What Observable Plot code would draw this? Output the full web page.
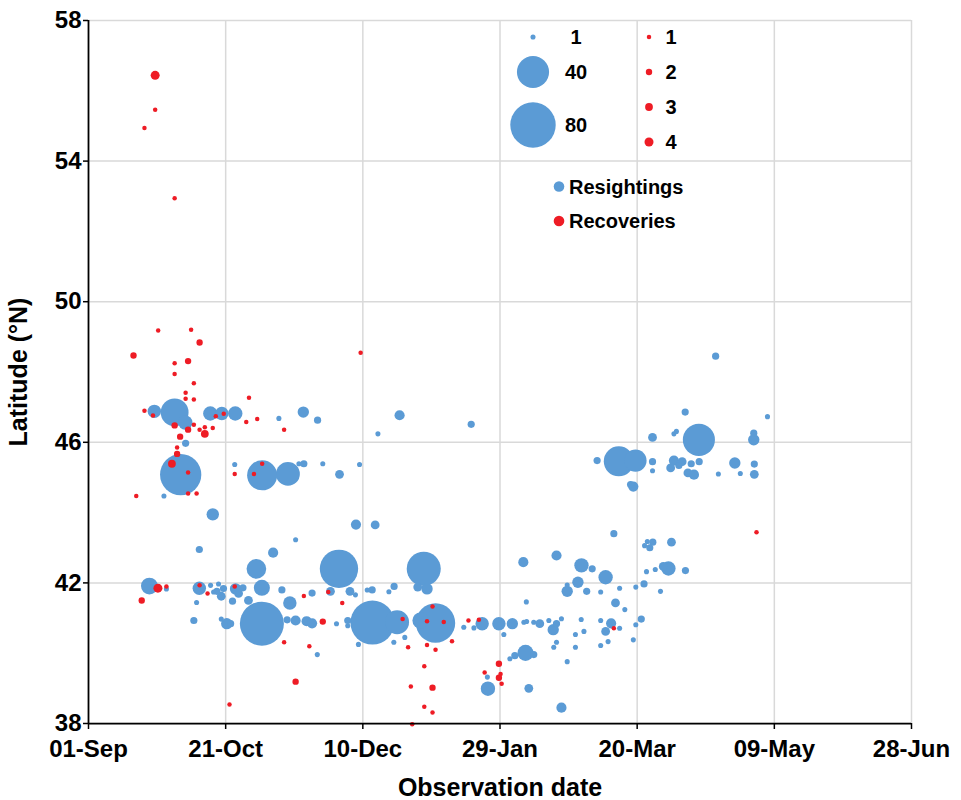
<!DOCTYPE html>
<html>
<head>
<meta charset="utf-8">
<script src="https://cdn.jsdelivr.net/npm/d3@7"></script>
<script src="https://cdn.jsdelivr.net/npm/@observablehq/plot@0.6"></script>
<style>
  html, body { margin: 0; padding: 0; background: #fff; }
  #chart { width: 961px; height: 800px; }
</style>
</head>
<body>
<div id="chart"></div>
<script>
// ---- Data (days after 01-Sep, latitude °N, number of birds) ----
const resightDay = [24.0,31.4,35.3,44.4,48.6,53.5,69.4,35.4,33.6,27.5,53.3,63.3,72.7,76.7,78.5,85.4,98.8,91.5,45.3,97.5,
  104.5,75.5,67.3,61.2,91.3,78.3,83.5,113.4,105.5,139.5,40.4,22.2,28.4,40.4,44.5,47.4,46.8,48.4,49.2,39.4,
  38.4,48.4,50.4,52.5,53.6,56.3,54.7,63.2,58.3,70.5,63.2,73.4,51.8,75.5,79.5,81.5,72.4,90.4,94.5,94.5,
  83.4,98.4,81.5,88.2,95.3,97.3,101.6,103.4,109.5,111.4,103.5,112.5,121.0,126.5,122.2,120.0,123.4,136.8,140.5,111.3,
  115.3,143.5,149.6,154.5,151.4,158.7,159.7,162.3,164.5,167.8,169.4,170.6,172.4,170.6,169.6,177.5,177.5,179.6,180.6,186.7,
  190.5,188.5,193.6,189.4,186.7,199.5,201.5,198.6,159.3,162.3,155.4,153.6,174.5,145.6,145.4,160.5,172.4,158.5,170.6,179.7,
  183.6,188.5,178.4,174.5,174.5,181.6,186.7,193.6,199.5,202.5,208.5,159.6,192.1,195.5,211.4,203.4,206.6,209.5,217.6,228.6,
  217.5,247.5,222.5,205.6,213.4,214.3,242.5,242.5,185.4,193.3,199.4,205.6,205.6,197.6,198.6,213.4,212.2,216.4,215.2,219.7,
  222.6,218.5,220.7,229.6,235.6,237.6,242.7,242.7,191.5,202.7,204.6,205.7,203.7,212.5,45.6];
const resightLat = [46.88,46.85,46.56,46.82,46.82,46.82,46.68,45.97,45.08,44.47,45.37,45.06,45.10,45.39,45.39,45.39,45.37,45.09,43.95,43.66,
  43.65,43.23,42.86,42.40,42.40,46.86,46.63,46.77,46.24,46.51,42.95,41.91,41.83,41.85,41.93,41.97,41.76,41.62,41.84,41.44,
  40.93,40.97,40.84,41.48,41.83,41.86,41.70,41.86,41.50,41.80,40.84,41.43,40.84,40.93,40.91,40.85,40.95,40.84,40.93,40.78,
  39.96,40.25,41.71,41.76,41.76,41.66,41.80,41.80,41.75,41.90,40.87,40.88,40.93,40.86,42.40,41.88,41.83,40.74,40.72,40.31,
  40.45,40.84,40.84,40.84,40.53,40.88,40.90,40.88,40.84,40.93,40.67,40.84,40.98,40.31,40.17,40.53,40.17,40.96,40.62,40.93,
  40.85,40.62,40.71,40.33,40.22,40.81,40.97,40.38,40.01,39.96,39.93,39.84,39.76,38.99,39.32,39.00,38.45,42.59,42.78,42.50,
  42.40,42.16,42.02,41.76,41.94,41.76,41.74,41.85,41.88,41.97,41.76,41.46,41.43,41.24,42.41,42.32,42.38,42.47,42.35,48.45,
  46.86,46.73,46.07,46.14,46.24,46.31,46.26,46.07,45.48,45.46,45.48,45.45,45.19,44.80,44.74,45.48,45.27,45.45,45.34,45.39,
  45.45,45.13,45.08,45.10,45.41,45.11,45.38,45.09,43.40,43.06,43.00,43.16,43.18,43.16,41.74];
const resightCount = [7,30,8,8,7,8,1,2,66,1,1,35,22,1,2,1,1,3,6,4,
  3,1,4,15,57,5,2,4,1,2,2,11,1,7,1,1,2,3,2,1,
  2,1,5,2,5,2,3,10,3,2,75,7,2,4,4,4,2,1,2,1,
  1,1,2,3,3,1,1,2,1,2,75,22,10,60,45,3,5,1,1,1,
  1,7,7,5,1,1,1,1,3,1,5,2,1,1,1,1,1,1,1,1,
  4,3,1,1,1,1,2,1,10,2,2,1,1,8,1,3,4,4,4,8,
  2,8,5,5,1,2,1,1,1,2,1,1,3,1,8,1,1,3,2,2,
  2,1,40,3,1,1,2,5,2,35,19,2,1,2,4,4,3,3,2,2,
  2,3,4,1,5,1,2,3,2,1,2,2,1,3,1];

const recoverDay = [24.3,24.3,20.4,31.4,25.4,37.4,40.5,16.4,31.4,36.3,31.4,38.4,35.4,35.4,38.4,58.5,20.4,23.5,46.4,49.3,
  61.5,57.5,31.4,38.4,42.4,45.3,36.3,40.5,42.4,33.4,71.3,32.3,32.3,30.4,36.3,17.4,36.3,39.4,63.3,60.3,
  53.3,25.3,28.4,19.4,40.5,43.4,53.3,71.3,51.4,78.5,87.4,92.5,85.4,80.5,75.5,114.5,123.4,129.5,125.4,116.5,
  123.4,126.5,132.5,138.5,142.3,122.4,117.5,125.4,122.4,125.4,118.0,149.6,144.4,150.2,149.6,150.6,191.5,243.5,99.2];
const recoverLat = [56.44,55.46,54.94,52.94,49.18,49.20,48.84,48.47,48.25,48.31,47.94,47.68,47.41,47.24,47.22,47.27,46.90,46.76,46.74,46.81,
  46.66,46.58,46.48,46.50,46.43,46.41,46.36,46.36,46.24,46.16,46.36,45.85,45.67,45.39,45.14,44.47,44.54,44.54,45.39,45.10,
  45.10,41.85,41.90,41.50,41.93,41.70,41.90,40.31,38.54,41.63,41.74,41.43,40.90,40.20,39.19,40.97,40.91,40.89,41.33,40.17,
  40.23,40.10,40.34,40.93,40.95,39.63,39.05,39.02,38.48,38.31,37.98,39.70,39.45,39.41,39.30,39.13,40.71,43.44,48.55];
const recoverCount = [4,1,1,1,1,1,2,2,1,2,1,1,1,1,1,1,1,1,1,1,
  1,1,2,1,1,1,2,1,3,2,1,1,2,3,1,1,1,1,1,1,
  1,4,1,2,1,1,1,1,1,1,1,1,2,1,2,1,1,1,1,1,
  1,1,1,1,1,1,1,2,1,1,1,2,1,1,2,1,1,1,1];

const xTickDays = [0, 50, 100, 150, 200, 250, 300];
const xTickLabels = ["01-Sep", "21-Oct", "10-Dec", "29-Jan", "20-Mar", "09-May", "28-Jun"];
const yTicks = [38, 42, 46, 50, 54, 58];
const legendResight = [1, 40, 80];
const legendRecover = [1, 2, 3, 4];

// ---- Build tables ----
const t0 = Date.UTC(2001, 8, 1);
const toDate = d => new Date(t0 + d * 864e5);
const resight = resightDay.map((d, i) => ({date: toDate(d), lat: resightLat[i], n: resightCount[i]}));
const recover = recoverDay.map((d, i) => ({date: toDate(d), lat: recoverLat[i], n: recoverCount[i]}));
const xTicks = xTickDays.map(toDate);
const tickLabel = new Map(xTicks.map((d, i) => [+d, xTickLabels[i]]));

const BLUE = "#5B9BD5", RED = "#EE1C25", GRID = "#D9D9D9";
const rBlue = n => 2.54 * Math.sqrt(n);
const rRed = n => 2.25 * Math.sqrt(n);
const FONT = "'Liberation Sans', Arial, Helvetica, sans-serif";

const chart = Plot.plot({
  width: 961,
  height: 800,
  marginLeft: 88,
  marginRight: 50,
  marginTop: 20,
  marginBottom: 77,
  style: {fontFamily: FONT, fontWeight: "bold", fontSize: "24px", background: "#fff", color: "#000", overflow: "visible"},
  x: {type: "utc", domain: [toDate(0), toDate(300)]},
  y: {domain: [38, 58]},
  r: {type: "linear", domain: [0, 1], range: [0, 1]},
  marks: [
    Plot.gridX(xTicks, {stroke: GRID, strokeOpacity: 1, strokeWidth: 1.5}),
    Plot.gridY(yTicks, {stroke: GRID, strokeOpacity: 1, strokeWidth: 1.5}),
    Plot.dot(resight, {x: "date", y: "lat", r: d => rBlue(d.n), fill: BLUE}),
    Plot.dot(recover, {x: "date", y: "lat", r: d => rRed(d.n), fill: RED}),
    Plot.ruleX([toDate(0)], {stroke: "#000", strokeWidth: 1.75}),
    Plot.ruleY([38], {stroke: "#000", strokeWidth: 1.75}),
    Plot.axisX({ticks: xTicks, tickFormat: d => tickLabel.get(+d), tickSize: 6, tickPadding: 10,
      stroke: "#000", strokeWidth: 1.5, fontSize: 24, fontWeight: "bold", label: null}),
    Plot.axisY({ticks: yTicks, tickSize: 5, tickPadding: 2, stroke: "#000", strokeWidth: 1.5,
      fontSize: 24, fontWeight: "bold", label: null}),
    Plot.text(["Observation date"], {frameAnchor: "bottom", dy: 64, lineAnchor: "middle", textAnchor: "middle",
      fontSize: 25, fontWeight: "bold", fill: "#000"}),
    Plot.text(["Latitude (°N)"], {frameAnchor: "left", dx: -70, rotate: -90, lineAnchor: "middle", textAnchor: "middle",
      fontSize: 25, fontWeight: "bold", fill: "#000"})
  ]
});

document.getElementById("chart").appendChild(chart);

// ---- Legend (inside the plot, top-right) ----
const svg = d3.select(chart);
const lg = svg.append("g").attr("font-family", FONT).attr("font-weight", "bold").attr("font-size", 20);
const blueY = [37, 72, 125];
legendResight.forEach((n, i) => {
  lg.append("circle").attr("cx", 533).attr("cy", blueY[i]).attr("r", rBlue(n)).attr("fill", BLUE);
  lg.append("text").attr("x", 576).attr("y", blueY[i]).attr("dy", "0.36em").attr("text-anchor", "middle").text(n);
});
legendRecover.forEach((n, i) => {
  const y = 37 + i * 35;
  lg.append("circle").attr("cx", 649).attr("cy", y).attr("r", rRed(n)).attr("fill", RED);
  lg.append("text").attr("x", 671).attr("y", y).attr("dy", "0.36em").attr("text-anchor", "middle").text(n);
});
[["Resightings", BLUE, 186.5], ["Recoveries", RED, 221]].forEach(([label, c, y]) => {
  lg.append("circle").attr("cx", 559).attr("cy", y).attr("r", 5.3).attr("fill", c);
  lg.append("text").attr("x", 569).attr("y", y).attr("dy", "0.36em").attr("text-anchor", "start").text(label);
});
</script>
</body>
</html>
